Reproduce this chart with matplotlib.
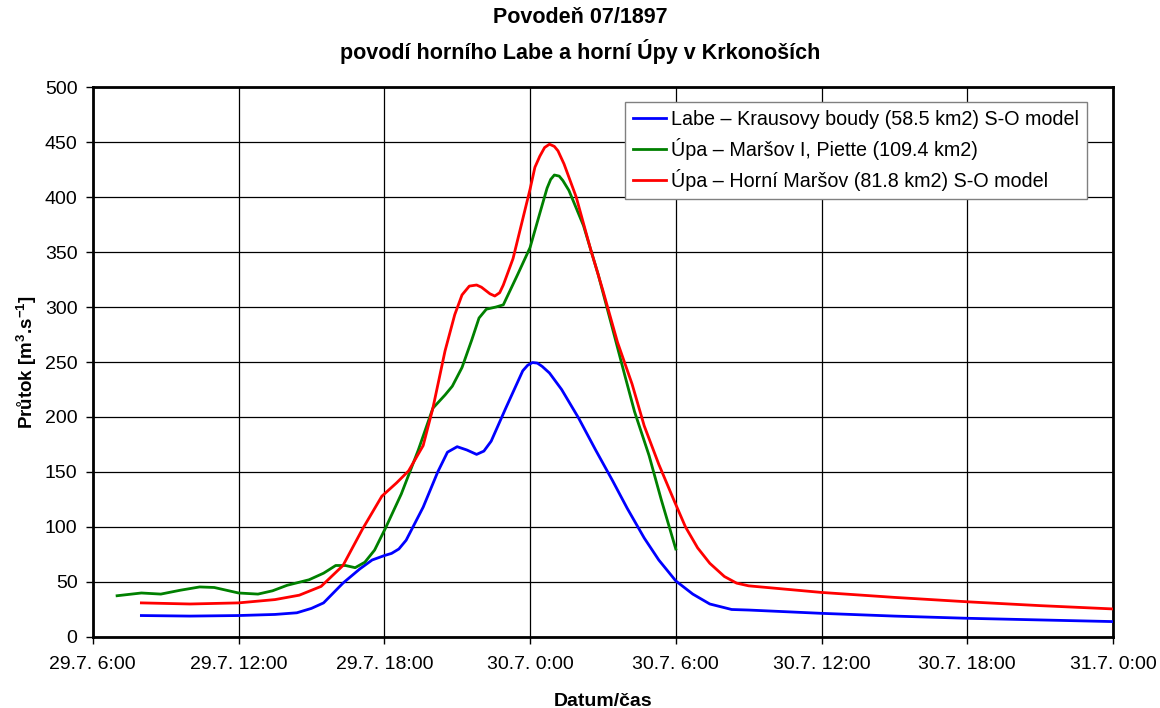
import matplotlib
matplotlib.use("Agg")
import matplotlib.pyplot as plt

plt.rcParams['font.family'] = ['Liberation Sans', 'DejaVu Sans']
plt.rcParams['mathtext.fontset'] = 'custom'
plt.rcParams['mathtext.rm'] = 'Liberation Sans'
plt.rcParams['mathtext.bf'] = 'Liberation Sans:bold'
plt.rcParams['mathtext.default'] = 'bf'

title = "Povodeň 07/1897\npovodí horního Labe a horní Úpy v Krkonoších"
xlabel = "Datum/čas"
ylabel = r"Průtok [m$^{3}$.s$^{-1}$]"

# hours since 29.7. 0:00
tick_hours = [6, 12, 18, 24, 30, 36, 42, 48]
tick_labels = ["29.7. 6:00", "29.7. 12:00", "29.7. 18:00", "30.7. 0:00",
               "30.7. 6:00", "30.7. 12:00", "30.7. 18:00", "31.7. 0:00"]

labe_t = [8.0, 10, 12, 13.5, 14.4, 15.0, 15.5, 16.3, 17.0, 17.5, 18.0, 18.3, 18.6, 18.9, 19.6, 20.2,
          20.6, 21.0, 21.4, 21.8, 22.1, 22.4, 23.0, 23.7, 23.9, 24.1, 24.3, 24.5, 24.8, 25.3, 26.0,
          26.7, 27.4, 28.0, 28.7, 29.3, 30.0, 30.7, 31.4, 32.3, 33, 36, 39, 42, 45, 48]
labe_q = [19.5, 19, 19.5, 20.5, 22, 26, 31, 49, 62, 70, 74, 76, 80, 88, 118, 150,
          168, 173, 170, 166, 169, 178, 208, 242, 247, 249.5, 249, 246, 240, 225, 199,
          170, 142, 117, 90, 70, 51, 39, 30, 25, 24.5, 21.5, 19, 17, 15.5, 14]

marsov_t = [7.0, 8.0, 8.8, 9.6, 10.4, 11.0, 11.6, 12.0, 12.8, 13.4, 14.0, 14.9, 15.5,
            16.0, 16.4, 16.8, 17.2, 17.6, 18.05, 18.7, 19.4, 20.0, 20.5, 20.8, 21.2,
            21.6, 21.9, 22.2, 22.6, 22.9, 23.5, 24.0, 24.4, 24.7, 24.85, 25.0, 25.2, 25.35, 25.6,
            26.2, 26.8, 27.4, 27.9, 28.3, 28.9, 29.4, 30.0]
marsov_q = [37.5, 40, 39, 42.5, 45.5, 45, 42, 40, 39, 42, 47, 52, 58,
            65, 65, 63, 68, 79, 99, 130, 170, 208, 220, 228, 245,
            270, 290, 298, 300, 302, 330, 354, 385, 408, 416, 420, 419, 415, 406,
            374, 330, 280, 238, 205, 165, 125, 80]

horni_t = [8, 10, 12, 13.5, 14.5, 15.4, 16.3, 17.1, 17.9, 18.5, 19.0, 19.6, 20.0, 20.5,
           20.9, 21.2, 21.5, 21.8, 22.0, 22.35, 22.55, 22.75, 22.9, 23.3, 23.7, 24.0, 24.2, 24.4,
           24.6, 24.8, 25.0, 25.15, 25.4, 25.9, 26.5, 27.0, 27.6, 28.2, 28.7, 29.3, 29.95,
           30.4, 30.9, 31.4, 32.0, 32.5, 33, 36, 39, 42, 45, 48]
horni_q = [31, 30, 31, 34, 38, 46, 65, 98, 128, 140, 151, 174, 208, 260,
           293, 311, 319, 320, 318, 312, 310, 313, 320, 344, 380, 407, 427, 437,
           445, 448, 446, 442, 430, 400, 352, 315, 268, 230, 192, 157, 123,
           100, 81, 67, 55, 49, 46.5, 40.5, 36, 32, 28.5, 25.5]

series_labels = ["Labe – Krausovy boudy (58.5 km2) S-O model",
                 "Úpa – Maršov I, Piette (109.4 km2)",
                 "Úpa – Horní Maršov (81.8 km2) S-O model"]

fig = plt.figure(figsize=(11.6, 7.08), dpi=100)
ax = fig.add_axes([0.080, 0.1003, 0.8795, 0.7768])

ax.plot(labe_t, labe_q, color='#0000FF', lw=2.0, label=series_labels[0], zorder=3,
        solid_joinstyle='round')
ax.plot(marsov_t, marsov_q, color='#008000', lw=2.0, label=series_labels[1], zorder=3,
        solid_joinstyle='round')
ax.plot(horni_t, horni_q, color='#FF0000', lw=2.0, label=series_labels[2], zorder=3,
        solid_joinstyle='round')

ax.set_xlim(6, 48)
ax.set_ylim(0, 500)
ax.set_xticks(tick_hours)
ax.set_xticklabels(tick_labels)
ax.set_yticks(range(0, 501, 50))
ax.tick_params(axis='both', labelsize=14, direction='out', length=5, width=1, colors='black')
ax.tick_params(axis='x', pad=9)
ax.tick_params(axis='y', pad=6)
ax.grid(True, color='black', lw=0.9, zorder=1)
for s in ax.spines.values():
    s.set_linewidth(2.0)
    s.set_color('black')

ax.set_xlabel(xlabel, fontsize=14, fontweight='bold', labelpad=14)
ax.set_ylabel(ylabel, fontsize=13.5, fontweight='bold', labelpad=4)
fig.suptitle(title, fontsize=15.5, fontweight='bold', y=0.99, linespacing=1.55)

leg = ax.legend(loc='upper right', bbox_to_anchor=(0.9745, 0.973), borderaxespad=0,
                fontsize=14.2, frameon=True, fancybox=False, framealpha=1,
                edgecolor='#808080', handlelength=1.65, handletextpad=0.25,
                labelspacing=0.45, borderpad=0.42)
leg.get_frame().set_linewidth(1.0)

fig.savefig("out.png", dpi=100)
